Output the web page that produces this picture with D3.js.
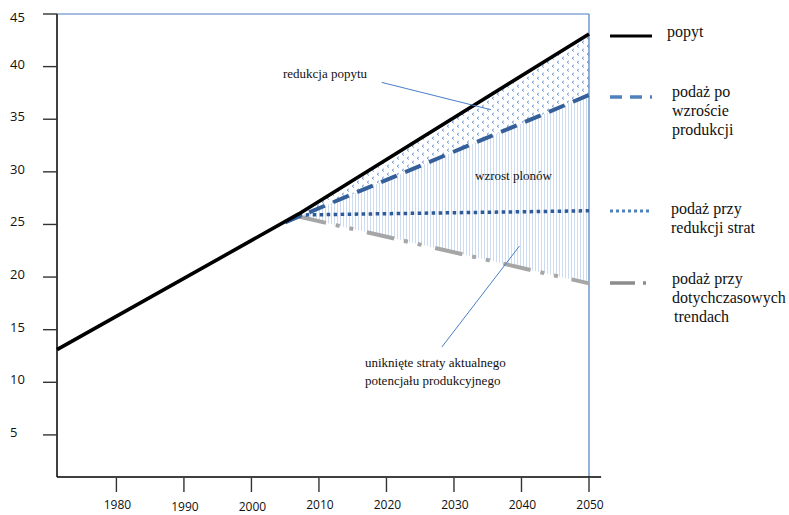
<!DOCTYPE html>
<html><head><meta charset="utf-8">
<script src="https://cdn.jsdelivr.net/npm/d3@7"></script>
<style>body{margin:0;background:#fff}svg{display:block}</style>
</head><body>
<svg id="c" width="789" height="515"></svg>
<script>
// ---- data ----
const yearTicks = [1980, 1990, 2000, 2010, 2020, 2030, 2040, 2050];
const valueTicks = [5, 10, 15, 20, 25, 30, 35, 40, 45];
const popytYears = [1971.2, 2007, 2050];
const popytValues = [13.1, 26.0, 43.1];
const wzrostYears = [2005, 2050];
const wzrostValues = [25.2, 37.3];
const redukcjaYears = [2007, 2050];
const redukcjaValues = [25.9, 26.3];
const trendYears = [2007, 2050];
const trendValues = [25.75, 19.4];
const legendLabels = [
  ["popyt"],
  ["podaż po", "wzroście", "produkcji"],
  ["podaż przy", "redukcji strat"],
  ["podaż przy", "dotychczasowych", "trendach"]
];

// ---- layout ----
const svg = d3.select("#c");
const x = d3.scaleLinear().domain([1971.2, 2050]).range([57, 589]);
const y = d3.scaleLinear().domain([1, 45]).range([477, 14]);
const serif = "'Liberation Serif','Times New Roman',serif";
const sans = "'Open Sans','Noto Sans',sans-serif";

const fPopyt = d3.scaleLinear().domain(popytYears).range(popytValues);
const fWzrost = d3.scaleLinear().domain(wzrostYears).range(wzrostValues);
const fTrend = d3.scaleLinear().domain(trendYears).range(trendValues);

// patterns
const defs = svg.append("defs");
const vh = defs.append("pattern").attr("id", "vh").attr("patternUnits", "userSpaceOnUse")
  .attr("width", 3).attr("height", 10);
vh.append("rect").attr("x", 1).attr("y", 0).attr("width", 1).attr("height", 10).attr("fill", "#cddcf0");
const ch = defs.append("pattern").attr("id", "ch").attr("patternUnits", "userSpaceOnUse")
  .attr("width", 10).attr("height", 8);
ch.append("path").attr("d", "M4,0.8 L2,2.2 L4,3.6 M9,4.8 L7,6.2 L9,7.6")
  .attr("fill", "none").attr("stroke", "#6a95d3").attr("stroke-width", 0.9);

const line = d3.line().x(d => x(d[0])).y(d => y(d[1]));
const x0 = popytYears[1], x1 = popytYears[2];

// shaded areas
svg.append("path")
  .attr("d", line([[x0, fPopyt(x0)], [x1, fPopyt(x1)], [x1, fWzrost(x1)], [x0, fWzrost(x0)]]) + "Z")
  .attr("fill", "url(#ch)");
svg.append("path")
  .attr("d", line([[x0, fWzrost(x0)], [x1, fWzrost(x1)], [x1, fTrend(x1)], [x0, fTrend(x0)]]) + "Z")
  .attr("fill", "url(#vh)");

// frame (blue)
const blue = "#4a7ec4";
svg.append("line").attr("x1", x(1971.2)).attr("x2", x(2050)).attr("y1", y(45)).attr("y2", y(45))
  .attr("stroke", blue).attr("stroke-width", 1.2);
svg.append("line").attr("x1", x(2050)).attr("x2", x(2050)).attr("y1", y(45)).attr("y2", y(1))
  .attr("stroke", blue).attr("stroke-width", 1.2);

// axes
const xAxis = svg.append("g").attr("transform", `translate(0,${y(1)})`);
xAxis.append("line").attr("x1", x(1971.2)).attr("x2", x(2051.8)).attr("stroke", "#000").attr("stroke-width", 1.5);
xAxis.selectAll("line.t").data(yearTicks).join("line").attr("class", "t")
  .attr("x1", d => x(d)).attr("x2", d => x(d)).attr("y1", 1).attr("y2", 15)
  .attr("stroke", "#333").attr("stroke-width", 1.4);
xAxis.selectAll("text").data(yearTicks).join("text")
  .attr("x", d => x(d) + 1).attr("y", d => (d === 1990 || d === 2000) ? 34 : 32)
  .attr("text-anchor", "middle").attr("font-family", sans).attr("font-size", 12).attr("fill", "#111")
  .text(d => d);

const yAxis = svg.append("g").attr("transform", `translate(${x(1971.2)},0)`);
yAxis.append("line").attr("y1", y(45)).attr("y2", y(1)).attr("stroke", "#000").attr("stroke-width", 1.5);
yAxis.selectAll("line.t").data(valueTicks).join("line").attr("class", "t")
  .attr("x1", -14).attr("x2", 0).attr("y1", d => y(d)).attr("y2", d => y(d))
  .attr("stroke", "#333").attr("stroke-width", 1.4);
yAxis.selectAll("text").data(valueTicks).join("text")
  .attr("x", -47).attr("y", d => y(d) + (d === 45 ? 8 : 2))
  .attr("font-family", sans).attr("font-size", 13).attr("fill", "#111")
  .text(d => d);

// series lines
const series = [
  {yrs: popytYears, vals: popytValues, color: "#000", w: 3.6, dash: null},
  {yrs: wzrostYears, vals: wzrostValues, color: "#355f99", w: 4, dash: "17,9"},
  {yrs: redukcjaYears, vals: redukcjaValues, color: "#2f5a9a", w: 3.5, dash: "3.5,3.5"},
  {yrs: trendYears, vals: trendValues, color: "#a6a6a6", w: 4, dash: "28,10,4,10,4,14"}
];
[3, 2, 1, 0].forEach(i => {
  const s = series[i];
  svg.append("path").attr("d", line(s.yrs.map((yr, k) => [yr, s.vals[k]])))
    .attr("fill", "none").attr("stroke", s.color).attr("stroke-width", s.w)
    .attr("stroke-dasharray", s.dash).attr("stroke-linejoin", "round");
});

// annotation leaders (in data coordinates)
const leaders = [[[2019.3, 38.5], [2035.5, 35.9]], [[2039.7, 22.95], [2028.2, 13.35]]];
leaders.forEach(l => svg.append("path").attr("d", line(l)).attr("stroke", blue).attr("stroke-width", 1).attr("fill", "none"));

const ann = svg.append("g").attr("font-family", serif).attr("font-size", 13).attr("fill", "#111");
ann.append("text").attr("x", 283).attr("y", 78).text("redukcja popytu");
ann.append("text").attr("x", 475).attr("y", 180).text("wzrost plonów");
ann.append("text").attr("x", 365).attr("y", 367).text("uniknięte straty aktualnego");
ann.append("text").attr("x", 365).attr("y", 385).text("potencjału produkcyjnego");

// legend
const legY = [36, 97, 211, 283];
const legStyle = [
  {color: "#000", w: 3, dash: null},
  {color: "#4f81bd", w: 3.5, dash: "12,8"},
  {color: "#4f81bd", w: 3, dash: "3,3"},
  {color: "#8c8c8c", w: 3.5, dash: "25,8,3,6,3,6"}
];
const textX = [667, 672, 671, 672];
const textY0 = [37, 96.5, 213.5, 283.5];
const leg = svg.append("g");
legendLabels.forEach((lines, i) => {
  leg.append("line").attr("x1", 610).attr("x2", 652).attr("y1", legY[i]).attr("y2", legY[i])
    .attr("stroke", legStyle[i].color).attr("stroke-width", legStyle[i].w).attr("stroke-dasharray", legStyle[i].dash);
  lines.forEach((t, j) => {
    leg.append("text").attr("x", textX[i] + (i === 3 && j === 2 ? 2 : 0)).attr("y", textY0[i] + j * 19.2)
      .attr("font-family", serif).attr("font-size", 16).attr("fill", "#111").text(t);
  });
});
</script>
</body></html>
